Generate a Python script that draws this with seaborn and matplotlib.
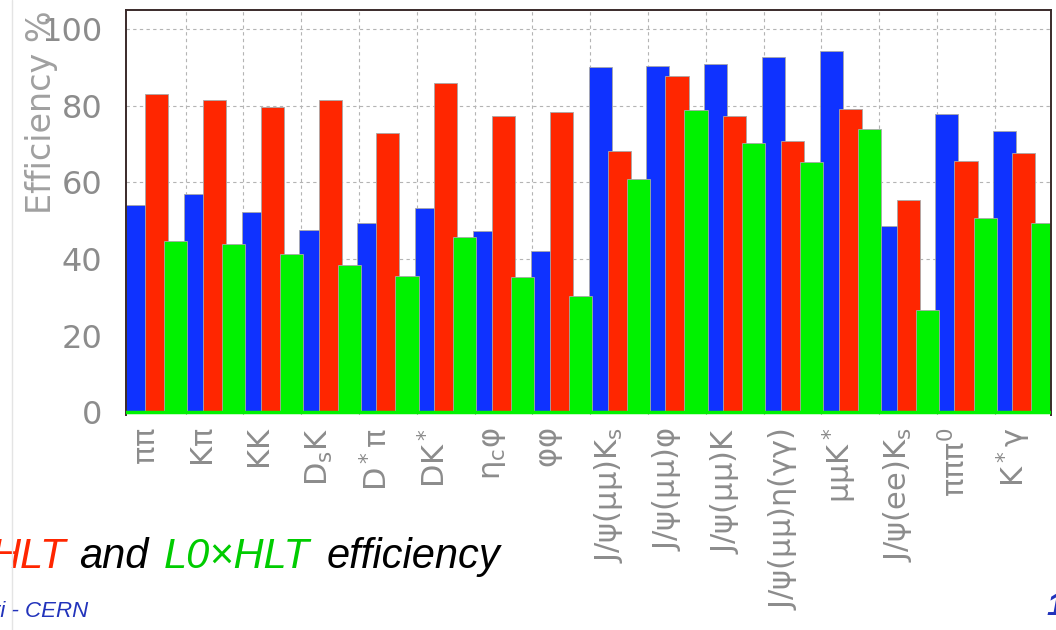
import numpy as np
import pandas as pd
import matplotlib
matplotlib.use('Agg')
from matplotlib import pyplot as plt
from matplotlib.lines import Line2D
from matplotlib.ticker import MultipleLocator, FixedLocator
import seaborn as sns


channels = [
    r'$\pi\pi$', r'$K\pi$', r'$KK$', r'$D_sK$', r'$D^*\pi$', r'$DK^*$',
    r'$\eta_c\varphi$', r'$\varphi\varphi$', r'$J/\psi(\mu\mu)K_s$',
    r'$J/\psi(\mu\mu)\varphi$', r'$J/\psi(\mu\mu)K$',
    r'$J/\psi(\mu\mu)\eta(\gamma\gamma)$', r'$\mu\mu K^*$',
    r'$J/\psi(ee)K_s$', r'$\pi\pi\pi^0$', r'$K^*\gamma$',
]
l0_eff = [54.0, 57.0, 52.2, 47.5, 49.4, 53.4, 47.4, 42.1,
          90.0, 90.3, 90.9, 92.8, 94.3, 48.7, 77.8, 73.5]
hlt_eff = [83.1, 81.6, 79.6, 81.5, 72.9, 86.0, 77.4, 78.4,
           68.2, 87.8, 77.4, 70.8, 79.1, 55.3, 65.6, 67.6]
l0hlt_eff = [44.6, 44.0, 41.3, 38.4, 35.7, 45.7, 35.2, 30.3,
             60.9, 78.9, 70.4, 65.3, 74.0, 26.7, 50.7, 49.3]

BLUE = '#0f32ff'
RED = '#ff2600'
GREEN = '#00f200'
GRAY_TEXT = '#8c8c8c'


def build_frame():
    idx = np.arange(len(channels))
    return pd.DataFrame({
        'idx': idx,
        'L0': l0_eff,
        'HLT': hlt_eff,
        'L0xHLT': l0hlt_eff,
    })


def plot_bars(ax, data):
    bar_width = 0.4
    step = 0.33
    series = [('L0', BLUE), ('HLT', RED), ('L0xHLT', GREEN)]
    for k, (name, color) in enumerate(series):
        sns.barplot(
            x=data['idx'] + k * step + bar_width / 2, y=data[name],
            native_scale=True, width=bar_width, color=color, saturation=1,
            edgecolor='#a8a8a8', linewidth=0.6, errorbar=None, ax=ax,
        )


def style_axes(ax):
    n = len(channels)
    ax.set_xlim(0, n)
    ax.set_ylim(-0.7, 105)

    ax.xaxis.set_major_locator(FixedLocator(np.arange(n) + 0.35))
    ax.set_xticklabels(channels, rotation=90, color=GRAY_TEXT, fontsize=22)
    ax.xaxis.set_minor_locator(FixedLocator(np.arange(1, n) + 0.03))
    ax.tick_params(axis='x', which='both', length=0, pad=9)
    ax.grid(axis='x', which='minor', color='#b4b4b4', linestyle=(0, (3, 3)),
            linewidth=0.8)

    ax.yaxis.set_major_locator(MultipleLocator(20))
    ax.yaxis.set_minor_locator(MultipleLocator(5))
    ax.tick_params(axis='y', which='major', direction='in', length=13,
                   width=0.8, color='#555555', labelsize=23,
                   labelcolor=GRAY_TEXT, pad=17)
    ax.tick_params(axis='y', which='minor', direction='in', length=6,
                   width=0.8, color='#555555')
    ax.grid(axis='y', which='major', color='#b4b4b4', linestyle=(0, (3, 3)),
            linewidth=0.8)
    ax.set_axisbelow(True)

    ax.set_xlabel('')
    ax.set_ylabel('Efficiency %', loc='top', color='#a0a0a0', fontsize=24)
    ax.yaxis.set_label_coords(-0.074, 1.0)

    for side in ['top', 'left', 'right']:
        ax.spines[side].set_color('#3a2a2a')
        ax.spines[side].set_linewidth(1.4)
    ax.spines['bottom'].set_visible(False)
    ax.axhline(0, color=GREEN, linewidth=2.5, zorder=5)


def add_slide_text(fig):
    base = 1 - 568 / 630
    font = dict(family='Liberation Sans', style='italic', fontsize=30)
    t_eff = fig.text(500 / 1056, base, 'efficiency', ha='right',
                     va='baseline', color='black', **font)
    t_green = plt.annotate('L0×HLT', xy=(0, 0), xycoords=t_eff,
                           xytext=(-12, 0), textcoords='offset points',
                           ha='right', va='bottom', color='#00cc00', **font)
    t_and = plt.annotate('and', xy=(0, 0), xycoords=t_green,
                         xytext=(-11, 0), textcoords='offset points',
                         ha='right', va='bottom', color='black', **font)
    plt.annotate('HLT', xy=(0, 0), xycoords=t_and,
                 xytext=(-9, 0), textcoords='offset points',
                 ha='right', va='bottom', color=RED, **font)

    fig.text(88 / 1056, 1 - 617 / 630, 'ri - CERN', ha='right',
             va='baseline', color='#2233bb', family='Liberation Sans',
             style='italic', fontsize=16)
    fig.text(1046 / 1056, 1 - 615 / 630, '1', ha='left', va='baseline',
             color='#2233bb', family='Liberation Sans', style='italic',
             fontweight='bold', fontsize=23)
    fig.add_artist(Line2D([12 / 1056, 12 / 1056], [0, 1],
                          transform=fig.transFigure, color='#e4e4e4',
                          linewidth=1))


if __name__ == '__main__':
    sns.set_theme(style='white')
    plt.rcParams['font.family'] = ['DejaVu Sans']
    plt.rcParams['mathtext.default'] = 'regular'

    fig = plt.figure(figsize=(10.56, 6.3), dpi=100)
    ax = fig.add_axes([126 / 1056, 1 - 415 / 630, 925 / 1056, 405 / 630])

    data = build_frame()
    plot_bars(ax, data)
    style_axes(ax)
    add_slide_text(fig)

    fig.savefig('out.png', dpi=100)
